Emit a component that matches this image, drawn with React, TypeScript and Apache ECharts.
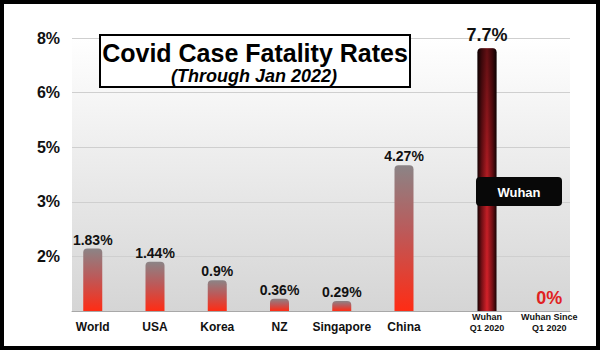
import React, { useEffect, useRef } from "react";
import * as echarts from "echarts";

const categories = ["World", "USA", "Korea", "NZ", "Singapore", "China", "Wuhan\nQ1 2020", "Wuhan Since\nQ1 2020"];
const values = [1.83, 1.44, 0.9, 0.36, 0.29, 4.27, 7.7, 0];
const valueLabels = ["1.83%", "1.44%", "0.9%", "0.36%", "0.29%", "4.27%", "7.7%", "0%"];
const yTickLabels = ["", "2%", "3%", "5%", "6%", "8%"];
const titleText = "Covid Case Fatality Rates";
const subtitleText = "(Through Jan 2022)";
const calloutText = "Wuhan";

// layout: slot of each category on a fine-grained category axis
const slotIndex = [1, 4, 7, 10, 13, 16, 20, 23];
const totalSlots = 25;
const FONT = "'Liberation Sans', Arial, Helvetica, sans-serif";

export default function App() {
  const ref = useRef<HTMLDivElement>(null);
  useEffect(() => {
    const chart = echarts.init(ref.current!, null, { renderer: "svg" });
    const axisData: string[] = Array(totalSlots).fill("");
    const barData: any[] = Array(totalSlots).fill("-");
    const shadeData: any[] = Array(totalSlots).fill("-");
    const normalGrad = new echarts.graphic.LinearGradient(0, 0, 0, 1, [
      { offset: 0, color: "#8b8486" },
      { offset: 0.45, color: "#bb5a5a" },
      { offset: 1, color: "#ff2c14" },
    ]);
    const wuhanGrad = new echarts.graphic.LinearGradient(0, 0, 1, 0, [
      { offset: 0, color: "#1a0203" },
      { offset: 0.22, color: "#7a1016" },
      { offset: 0.5, color: "#d8222a" },
      { offset: 0.78, color: "#7a1016" },
      { offset: 1, color: "#1a0203" },
    ]);
    categories.forEach((c, i) => {
      const s = slotIndex[i];
      axisData[s] = c;
      const big = i >= 6;
      barData[s] = {
        value: values[i],
        itemStyle: { color: i === 6 ? wuhanGrad : normalGrad },
        label: {
          formatter: valueLabels[i],
          fontSize: big ? 18 : 14,
          distance: big ? 4 : 2,
          color: i === 7 ? "#e02222" : "#111",
        },
      };
      if (i === 6) shadeData[s] = values[i];
    });

    chart.setOption({
      animation: false,
      grid: {
        left: 72,
        right: 30,
        top: 38,
        bottom: 40,
        show: true,
        borderWidth: 0,
        backgroundColor: new echarts.graphic.LinearGradient(0, 0, 0, 1, [
          { offset: 0, color: "#ffffff" },
          { offset: 1, color: "#d5d5d5" },
        ]),
      },
      xAxis: {
        type: "category",
        data: axisData,
        boundaryGap: false,
        axisTick: { show: false },
        axisLine: { show: true, lineStyle: { color: "#a8a8a8", width: 1 } },
        axisLabel: {
          interval: 0,
          margin: 0,
          hideOverlap: false,
          fontFamily: FONT,
          color: "#111",
          formatter: (v: string) => {
            if (!v) return "";
            if (v.includes("\n")) return v.split("\n").map((l) => `{s|${l}}`).join("\n");
            return `{b|${v}}`;
          },
          rich: {
            b: { fontSize: 12, fontWeight: "bold", lineHeight: 32, fontFamily: FONT, color: "#111" },
            s: { fontSize: 9, fontWeight: "bold", lineHeight: 11, fontFamily: FONT, color: "#111" },
          },
        },
      },
      yAxis: {
        type: "value",
        min: 0,
        max: 8,
        interval: 1.6,
        axisLine: { show: false },
        axisTick: { show: false },
        splitLine: { lineStyle: { color: "#cfcfcf", width: 1 } },
        axisLabel: {
          margin: 12,
          fontSize: 16,
          fontWeight: "bold",
          fontFamily: FONT,
          color: "#111",
          formatter: (_v: number, idx: number) => yTickLabels[idx] ?? "",
        },
      },
      series: [
        {
          type: "bar",
          data: barData,
          barWidth: 19,
          barGap: "-100%",
          itemStyle: { borderRadius: [4, 4, 0, 0] },
          label: {
            show: true,
            position: "top",
            fontWeight: "bold",
            fontFamily: FONT,
          },
          z: 2,
        },
        {
          type: "bar",
          data: shadeData,
          barWidth: 19,
          barGap: "-100%",
          silent: true,
          itemStyle: {
            borderRadius: [4, 4, 0, 0],
            color: new echarts.graphic.LinearGradient(0, 0, 0, 1, [
              { offset: 0, color: "rgba(0,0,0,0.55)" },
              { offset: 0.55, color: "rgba(0,0,0,0.12)" },
              { offset: 1, color: "rgba(0,0,0,0)" },
            ]),
          },
          z: 3,
        },
      ],
      graphic: [
        {
          type: "rect",
          shape: { x: 2, y: 2, width: 596, height: 346 },
          style: { fill: "none", stroke: "#000", lineWidth: 4 },
          z: 100,
        },
        {
          type: "rect",
          shape: { x: 100, y: 35, width: 310, height: 52 },
          style: { fill: "#fff", stroke: "#000", lineWidth: 2 },
          z: 50,
        },
        {
          type: "text",
          x: 255,
          y: 53,
          style: {
            text: titleText,
            fontSize: 25,
            fontWeight: "bold",
            fontFamily: FONT,
            fill: "#000",
            align: "center",
            verticalAlign: "middle",
          },
          z: 51,
        },
        {
          type: "text",
          x: 254,
          y: 76,
          style: {
            text: subtitleText,
            fontSize: 18,
            fontWeight: "bold",
            fontStyle: "italic",
            fontFamily: FONT,
            fill: "#000",
            align: "center",
            verticalAlign: "middle",
          },
          z: 51,
        },
        {
          type: "rect",
          shape: { x: 476, y: 177, width: 86, height: 29, r: 4 },
          style: { fill: "#080808" },
          z: 50,
        },
        {
          type: "text",
          x: 519,
          y: 192,
          style: {
            text: calloutText,
            fontSize: 13,
            fontWeight: "bold",
            fontFamily: FONT,
            fill: "#fff",
            align: "center",
            verticalAlign: "middle",
          },
          z: 51,
        },
      ],
    });
    return () => chart.dispose();
  }, []);
  return (
    <div
      ref={ref}
      style={{ position: "fixed", left: 0, top: 0, width: 600, height: 351, background: "#fff" }}
    />
  );
}
